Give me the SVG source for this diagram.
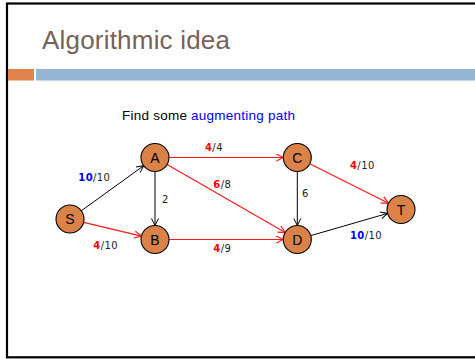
<svg xmlns="http://www.w3.org/2000/svg" width="475" height="359" viewBox="0 0 475 359">
<style>
.node circle{fill:#DB8248;stroke:#000;stroke-width:1.1}
.node text{font-family:"Liberation Sans",Arial,sans-serif;font-size:14px;text-anchor:middle;fill:#000}
.blk{stroke:#000;stroke-width:1;fill:none}
.red{stroke:#FF1A1A;stroke-width:1.2;fill:none}
.lbl{font-family:"DejaVu Sans",sans-serif;font-size:10px;fill:#222;letter-spacing:0.4px}
.b{font-weight:bold}
.r{fill:#FF0000}
.u{fill:#0000FF}
</style>
<defs>
<marker id="ab" markerUnits="userSpaceOnUse" markerWidth="10" markerHeight="10" refX="8" refY="4" orient="auto" viewBox="0 0 10 8">
<path d="M1,0.5 L8,4 L1,7.5" fill="none" stroke="#000" stroke-width="1"/>
</marker>
<marker id="ar" markerUnits="userSpaceOnUse" markerWidth="10" markerHeight="10" refX="8" refY="4" orient="auto" viewBox="0 0 10 8">
<path d="M1,0.5 L8,4 L1,7.5" fill="none" stroke="#FF1A1A" stroke-width="1.2"/>
</marker>
</defs>
<rect x="0" y="0" width="475" height="359" fill="#fff"/>
<rect x="7" y="3.5" width="480" height="353.8" fill="#fff" stroke="#000" stroke-width="2.2"/>
<text x="42" y="49" font-family="Liberation Sans,Arial,sans-serif" font-size="26" fill="#776259" textLength="188">Algorithmic idea</text>
<rect x="8" y="69" width="26" height="11.5" fill="#E0844B"/>
<rect x="36" y="69" width="440" height="11.5" fill="#94B6D2"/>
<text x="122" y="120" font-family="Liberation Sans,Arial,sans-serif" font-size="13.5" fill="#000" textLength="173">Find some <tspan fill="#0000FF">augmenting path</tspan></text>
<g id="connectors">
<line class="blk" x1="81.3" y1="210.8" x2="143.7" y2="165.7" marker-end="url(#ab)"/>
<line class="red" x1="83.6" y1="222.3" x2="141.4" y2="236.2" marker-end="url(#ar)"/>
<line class="blk" x1="155" y1="171.5" x2="155" y2="225.5" marker-end="url(#ab)"/>
<line class="red" x1="169" y1="157.5" x2="283.3" y2="157.5" marker-end="url(#ar)"/>
<line class="red" x1="167.1" y1="164.5" x2="285.2" y2="232.5" marker-end="url(#ar)"/>
<line class="red" x1="169" y1="239.5" x2="283.3" y2="239.5" marker-end="url(#ar)"/>
<line class="blk" x1="297.3" y1="171.5" x2="297.3" y2="225.5" marker-end="url(#ab)"/>
<line class="red" x1="309.8" y1="163.8" x2="388.5" y2="203.2" marker-end="url(#ar)"/>
<line class="blk" x1="310.8" y1="235.6" x2="387.6" y2="213.4" marker-end="url(#ab)"/>
<text class="lbl" x="78.3" y="180.7"><tspan class="b u">10</tspan>/10</text>
<text class="lbl" x="93.3" y="249"><tspan class="b r">4</tspan>/10</text>
<text class="lbl" x="162" y="202.5">2</text>
<text class="lbl" x="205" y="150.5"><tspan class="b r">4</tspan>/4</text>
<text class="lbl" x="213.3" y="188"><tspan class="b r">6</tspan>/8</text>
<text class="lbl" x="213.3" y="251.5"><tspan class="b r">4</tspan>/9</text>
<text class="lbl" x="302" y="196.5">6</text>
<text class="lbl" x="350" y="169"><tspan class="b r">4</tspan>/10</text>
<text class="lbl" x="350" y="238.5"><tspan class="b u">10</tspan>/10</text>
</g>
<g id="S" class="node"><circle cx="70" cy="219" r="14"/><text x="70" y="224">S</text></g>
<g id="A" class="node"><circle cx="155" cy="157.5" r="14"/><text x="155" y="162.5">A</text></g>
<g id="B" class="node"><circle cx="155" cy="239.5" r="14"/><text x="155" y="244.5">B</text></g>
<g id="C" class="node"><circle cx="297.3" cy="157.5" r="14"/><text x="297.3" y="162.5">C</text></g>
<g id="D" class="node"><circle cx="297.3" cy="239.5" r="14"/><text x="297.3" y="244.5">D</text></g>
<g id="T" class="node"><circle cx="401" cy="209.5" r="14"/><text x="401" y="214.5">T</text></g>
</svg>
